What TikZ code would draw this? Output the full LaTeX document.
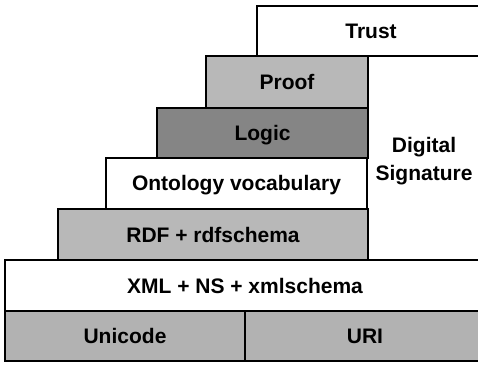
\documentclass[tikz,border=0pt]{standalone}
\usepackage{fontspec}
\setmainfont{Liberation Sans}
\usetikzlibrary{positioning}
\definecolor{lightlayer}{gray}{0.72}
\definecolor{darklayer}{gray}{0.52}
\definecolor{baselayer}{gray}{0.70}
\tikzset{
	layer/.style={draw,rectangle,line width=2pt,inner sep=0pt,fill=white,
		text height=15pt,text depth=0pt,
		font=\fontsize{21}{28}\selectfont\bfseries},
	label/.style={align=center,font=\fontsize{21}{28}\selectfont\bfseries}
}

\begin{document}
\begin{tikzpicture}[x=1pt,y=1pt]
			\clip (0,0) rectangle (478,364);
			\fill[white] (0,0) rectangle (478,364);

			\node[layer,minimum width=228,minimum height=50] (Trust) at (371,333) {Trust};

			\node[layer,fill=lightlayer,minimum width=162,minimum height=52] (Proof) at (287,282) {Proof};

			\node[layer,fill=darklayer,minimum width=211,minimum height=50] (Logic) at (262.5,231) {Logic};

			\node[layer,minimum width=261,minimum height=51] (Onto) at (236.5,180.5) {Ontology vocabulary};

			\node[layer,fill=lightlayer,minimum width=310,minimum height=51] (RDF) at (213,129.5) {RDF + rdfschema};

			\node[layer,minimum width=480,minimum height=51] (XML) at (245,78.5) {XML + NS + xmlschema};

			\node[layer,fill=baselayer,minimum width=240,minimum height=50] (Unicode) at (125,28) {Unicode};

			\node[layer,fill=baselayer,minimum width=240,minimum height=50] (URI) at (365,28) {URI};

			\node[label] (Sig) at (424,203) {Digital\\Signature};
		\end{tikzpicture}
\end{document}
